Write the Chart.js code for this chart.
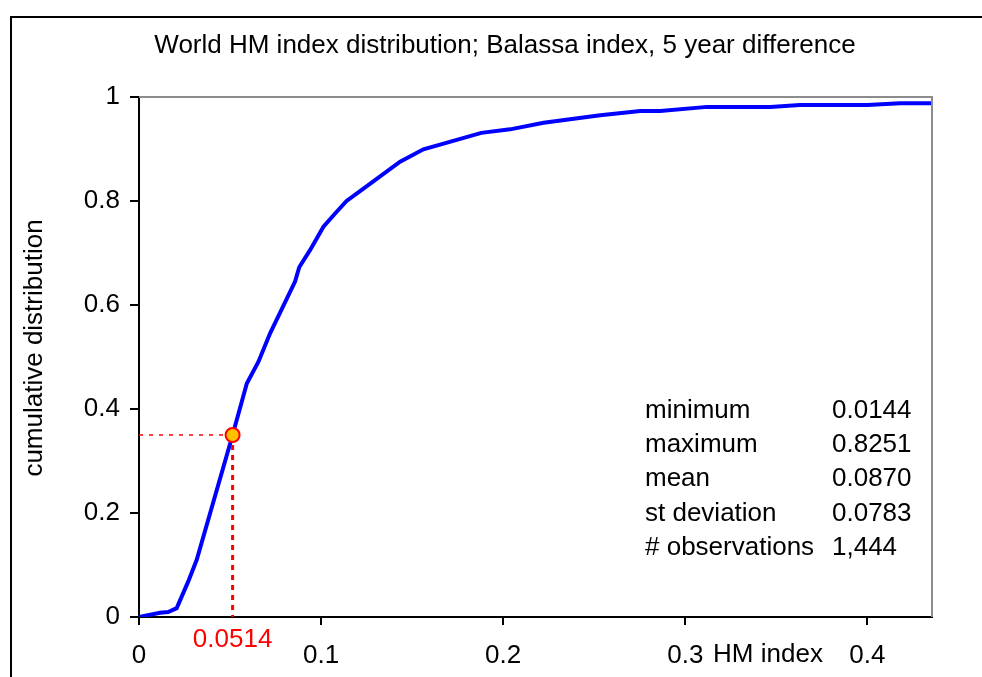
<!DOCTYPE html>
<html>
<head>
<meta charset="utf-8">
<script src="https://cdn.jsdelivr.net/npm/chart.js@4"></script>
<style>
  body { margin: 0; background: #fff; }
  #wrap { width: 982px; height: 677px; }
</style>
</head>
<body>
<div id="wrap"><canvas id="myChart" width="982" height="677"></canvas></div>
<script>
  // cumulative distribution
  const hmIndex = [0, 0.0115, 0.016, 0.0207, 0.027, 0.0317, 0.0514, 0.0592, 0.0656, 0.072, 0.0857, 0.088, 0.094, 0.1013, 0.1077, 0.114, 0.1214, 0.1434, 0.1562, 0.188, 0.2038, 0.2222, 0.2533, 0.2753, 0.2863, 0.312, 0.3467, 0.363, 0.40, 0.418, 0.4355];
  const cumDist = [0, 0.008, 0.0096, 0.017, 0.068, 0.11, 0.35, 0.449, 0.491, 0.5455, 0.645, 0.6725, 0.706, 0.7506, 0.776, 0.80, 0.819, 0.8756, 0.8994, 0.931, 0.9378, 0.9506, 0.9648, 0.973, 0.973, 0.981, 0.981, 0.9846, 0.9846, 0.988, 0.988];
  const xTicks = [0, 0.1, 0.2, 0.3, 0.4];
  const yTicks = [0, 0.2, 0.4, 0.6, 0.8, 1];
  const median = [0.0514, 0.35];
  const statNames = ['minimum', 'maximum', 'mean', 'st deviation', '# observations'];
  const statValues = ['0.0144', '0.8251', '0.0870', '0.0783', '1,444'];

  const FONT = '26px "Liberation Sans", Arial, sans-serif';

  const extras = {
    id: 'extras',
    afterDraw(chart) {
      const ctx = chart.ctx;
      const a = chart.chartArea;
      const xs = chart.scales.x;
      ctx.save();
      // grey top / right border of the plot
      ctx.strokeStyle = '#8c8c8c';
      ctx.lineWidth = 2;
      ctx.beginPath();
      ctx.moveTo(a.left, a.top);
      ctx.lineTo(a.right, a.top);
      ctx.lineTo(a.right, a.bottom);
      ctx.stroke();
      // outer frame
      ctx.strokeStyle = '#000';
      ctx.lineWidth = 2;
      ctx.strokeRect(11, 17, 1100, 800);

      ctx.fillStyle = '#000';
      ctx.font = FONT;
      ctx.textAlign = 'center';
      ctx.textBaseline = 'alphabetic';
      ctx.fillText('World HM index distribution; Balassa index, 5 year difference', 505, 53);
      ctx.fillText('HM index', 768, 662);

      ctx.fillStyle = '#ff0000';
      ctx.fillText(median[0].toFixed(4), xs.getPixelForValue(median[0]), 647);

      ctx.fillStyle = '#000';
      ctx.textAlign = 'left';
      statNames.forEach((s, i) => {
        ctx.fillText(s, 645, 417.5 + i * 34.4);
        ctx.fillText(statValues[i], 832, 417.5 + i * 34.4);
      });

      ctx.translate(42, 348);
      ctx.rotate(-Math.PI / 2);
      ctx.textAlign = 'center';
      ctx.fillText('cumulative distribution', 0, 0);
      ctx.restore();
    }
  };

  const data = {
    datasets: [{
      type: 'scatter',
      data: [{x: median[0], y: median[1]}],
      pointRadius: 7,
      pointBackgroundColor: '#ffc000',
      pointBorderColor: '#ff0000',
      pointBorderWidth: 2,
    }, {
      data: [{x: 0, y: median[1]}, {x: median[0], y: median[1]}],
      borderColor: '#ff0000',
      borderWidth: 1.5,
      borderDash: [4, 6],
      pointRadius: 0,
    }, {
      data: [{x: median[0], y: median[1]}, {x: median[0], y: 0}],
      borderColor: '#ff0000',
      borderWidth: 3,
      borderDash: [5, 5],
      pointRadius: 0,
    }, {
      label: 'HM index',
      data: hmIndex.map((v, i) => ({x: v, y: cumDist[i]})),
      borderColor: '#0000ff',
      borderWidth: 4,
      pointRadius: 0,
      tension: 0,
    }]
  };

  const config = {
    type: 'line',
    data,
    options: {
      responsive: false,
      animation: false,
      devicePixelRatio: 1,
      layout: { padding: { top: 97, right: 50, left: 0, bottom: 0 } },
      plugins: { legend: { display: false }, tooltip: { enabled: false } },
      scales: {
        x: {
          type: 'linear',
          min: 0,
          max: 0.4355,
          afterFit: s => { s.height = 60; },
          afterBuildTicks: s => { s.ticks = xTicks.map(v => ({value: v})); },
          grid: { drawOnChartArea: false, tickLength: 8, color: '#000', lineWidth: 2 },
          border: { color: '#000', width: 2 },
          ticks: { color: '#000', font: { family: '"Liberation Sans", Arial, sans-serif', size: 26 }, padding: 15, maxRotation: 0, callback: v => String(v) },
        },
        y: {
          min: 0,
          max: 1,
          afterFit: s => { s.width = 139; },
          afterBuildTicks: s => { s.ticks = yTicks.map(v => ({value: v})); },
          grid: { drawOnChartArea: false, tickLength: 9, color: '#000', lineWidth: 2 },
          border: { color: '#000', width: 2 },
          ticks: { color: '#000', font: { family: '"Liberation Sans", Arial, sans-serif', size: 26 }, padding: 10, callback: v => String(v) },
        }
      }
    },
    plugins: [extras]
  };

  var myChart = new Chart(document.getElementById('myChart'), config);
</script>
</body>
</html>
